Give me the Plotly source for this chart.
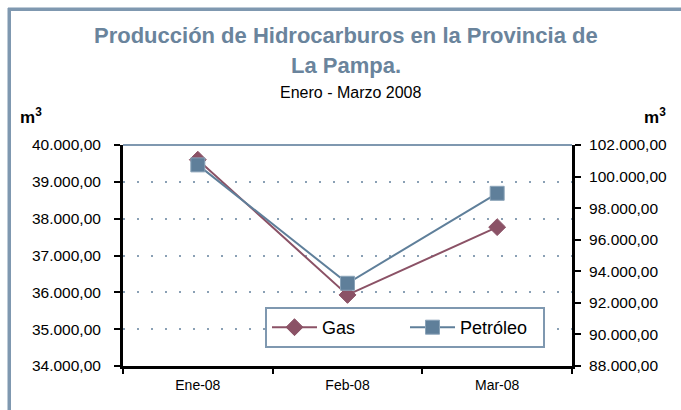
import plotly.graph_objects as go

months = ["Ene-08", "Feb-08", "Mar-08"]
gas = [39600, 35930, 37770]
petroleo = [100740, 93240, 98940]
left_ticks = [34000, 35000, 36000, 37000, 38000, 39000, 40000]
left_labels = ["34.000,00", "35.000,00", "36.000,00", "37.000,00", "38.000,00", "39.000,00", "40.000,00"]
right_ticks = [88000, 90000, 92000, 94000, 96000, 98000, 100000, 102000]
right_labels = ["88.000,00", "90.000,00", "92.000,00", "94.000,00", "96.000,00", "98.000,00", "100.000,00", "102.000,00"]

W, H = 681, 410
L, R, T, B = 123, 572, 145, 366

def px(x):
    return (x - L) / (R - L)

def py(y):
    return (B - y) / (B - T)

GAS_C = "#8b5266"
PET_C = "#5f7f9a"
FRAME = "#7f98b0"

fig = go.Figure()
fig.add_trace(go.Scatter(x=months, y=gas, name="Gas", mode="lines+markers",
                         line=dict(color=GAS_C, width=2),
                         marker=dict(symbol="diamond", size=13, color=GAS_C,
                                     line=dict(color=GAS_C, width=1))))
fig.add_trace(go.Scatter(x=months, y=petroleo, name="Petróleo", mode="lines+markers", yaxis="y2",
                         line=dict(color=PET_C, width=2),
                         marker=dict(symbol="square", size=14, color=PET_C,
                                     line=dict(color="#8aa3b8", width=1))))

font = "Liberation Sans, Arial, sans-serif"
fig.update_layout(
    width=W, height=H,
    margin=dict(l=L, r=W - R, t=T, b=H - B),
    paper_bgcolor="white", plot_bgcolor="white",
    font=dict(family=font, color="black", size=14),
    showlegend=True,
    legend=dict(x=px(265), y=py(307), xanchor="left", yanchor="top",
                orientation="h", bordercolor=FRAME, borderwidth=2, bgcolor="white",
                font=dict(size=18), itemwidth=45, entrywidth=78,
                tracegroupgap=0),
    xaxis=dict(type="category", range=[-0.5, 2.5], showgrid=False, showline=True,
               linecolor="black", linewidth=3, ticks="outside", ticklen=5,
               tickcolor="black", tickwidth=2, tickson="boundaries",
               tickfont=dict(size=14), ticklabelstandoff=4, zeroline=False),
    yaxis=dict(range=[34000, 40000], tickvals=left_ticks, ticktext=left_labels,
               showgrid=True, gridcolor="#8aa0b5", griddash="2px,12px", gridwidth=2,
               showline=True, linecolor="black", linewidth=3, ticks="outside",
               ticklen=6, tickwidth=2, tickcolor="black", tickfont=dict(size=15.5),
               ticklabelstandoff=10, zeroline=False),
    yaxis2=dict(range=[88000, 102000], tickvals=right_ticks, ticktext=right_labels,
                overlaying="y", side="right", showgrid=False, showline=True,
                linecolor="black", linewidth=3, ticks="outside", ticklen=6,
                tickwidth=2, tickcolor="black", tickfont=dict(size=15.5),
                ticklabelstandoff=5, zeroline=False),
    shapes=[
        dict(type="line", xref="paper", yref="paper", x0=0, x1=1, y0=1, y1=1,
             line=dict(color=FRAME, width=2), layer="above"),
        dict(type="line", xref="paper", yref="paper", x0=px(8), x1=px(W),
             y0=py(9), y1=py(9), line=dict(color=FRAME, width=3), layer="above"),
        dict(type="line", xref="paper", yref="paper", x0=px(9), x1=px(9),
             y0=py(8), y1=py(H), line=dict(color=FRAME, width=3), layer="above"),
    ],
    annotations=[
        dict(text="<b>Producción de Hidrocarburos en la Provincia de</b>", x=px(346), y=py(35),
             xref="paper", yref="paper", showarrow=False,
             font=dict(size=22, color="#6a849c"), xanchor="center", yanchor="middle"),
        dict(text="<b>La Pampa.</b>", x=px(346), y=py(66),
             xref="paper", yref="paper", showarrow=False,
             font=dict(size=22, color="#6a849c"), xanchor="center", yanchor="middle"),
        dict(text="Enero - Marzo 2008", x=px(351), y=py(93),
             xref="paper", yref="paper", showarrow=False,
             font=dict(size=16, color="black"), xanchor="center", yanchor="middle"),
        dict(text="<b>m<sup>3</sup></b>", x=px(31), y=py(116),
             xref="paper", yref="paper", showarrow=False,
             font=dict(size=17, color="black"), xanchor="center", yanchor="middle"),
        dict(text="<b>m<sup>3</sup></b>", x=px(655), y=py(116),
             xref="paper", yref="paper", showarrow=False,
             font=dict(size=17, color="black"), xanchor="center", yanchor="middle"),
    ],
)

js = ("document.body.style.margin='0px';"
      "document.body.style.overflow='hidden';"
      "var bx=document.createElement('div');"
      "bx.style.cssText='position:absolute;left:8px;top:8px;width:800px;height:600px;"
      "border-left:3px solid #7f98b0;border-top:3px solid #7f98b0;pointer-events:none';"
      "document.body.appendChild(bx);")

fig.write_html("out.html", config={"displayModeBar": False}, post_script=js)
